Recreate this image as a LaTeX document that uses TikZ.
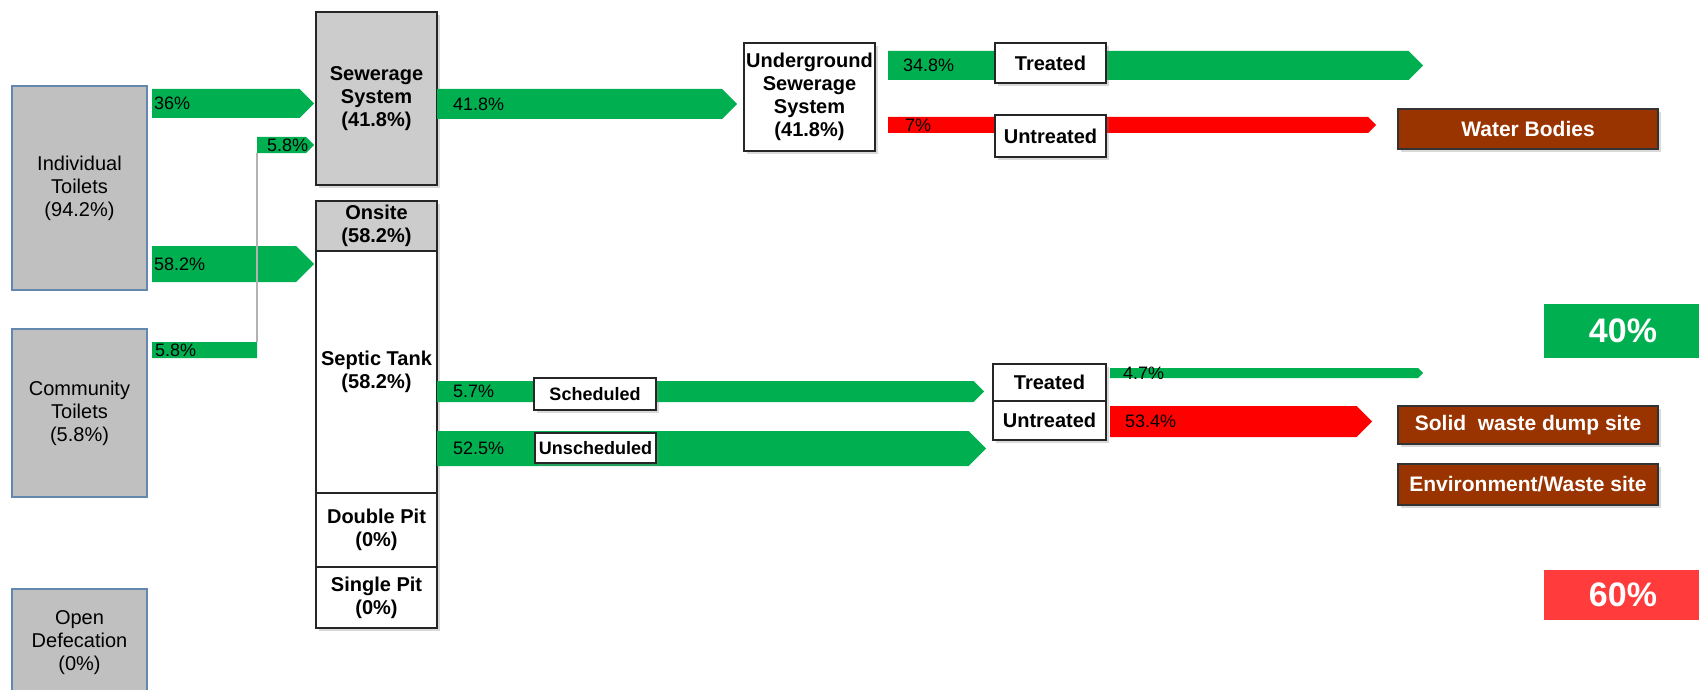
\documentclass[tikz,border=0pt]{standalone}
\usepackage{fontspec}
\setmainfont{Liberation Sans}
\usetikzlibrary{positioning,shapes.symbols,shadows}
\definecolor{flowgreen}{RGB}{0,176,80}
\definecolor{flowred}{RGB}{255,0,0}
\definecolor{srcgray}{RGB}{192,192,192}
\definecolor{srcblue}{RGB}{100,135,175}
\definecolor{stagegray}{RGB}{204,204,204}
\definecolor{sinkbrown}{RGB}{153,51,0}
\definecolor{sharered}{RGB}{255,59,59}

\begin{document}
\begin{tikzpicture}[x=1pt, y=-1pt,
	srcbox/.style={draw=srcblue, line width=1.3pt, fill=srcgray, minimum width=135pt, align=center, outer sep=0pt, font=\fontsize{20}{23}\selectfont},
	stagebox/.style={draw=black!85, line width=1.5pt, fill=white, minimum width=121pt, align=center, inner sep=0pt, outer sep=0pt, font=\bfseries\fontsize{20}{23}\selectfont, drop shadow={shadow xshift=3pt, shadow yshift=-3pt, opacity=0.3}},
	tagbox/.style={stagebox, font=\bfseries\fontsize{18}{21}\selectfont},
	sinkbox/.style={draw=black!80, line width=1.2pt, fill=sinkbrown, text=white, minimum width=260pt, outer sep=0pt, font=\bfseries\fontsize{21}{24}\selectfont, drop shadow={shadow xshift=3pt, shadow yshift=-3pt, opacity=0.3}},
	sharebox/.style={minimum width=158pt, text=white, outer sep=0pt, font=\bfseries\fontsize{34}{40}\selectfont},
	flow/.style={shape=signal, signal from=nowhere, signal to=east, fill=flowgreen, anchor=west, inner sep=0pt, outer sep=0pt},
	flowtxt/.style={anchor=west, inner sep=0pt, font=\fontsize{18}{20}\selectfont}]
	\useasboundingbox (0,0) rectangle (1699,690);
	\node[srcbox, anchor=north west, minimum height=204pt] (indiv) at (12,86) {Individual\\Toilets\\(94.2\%)};
	\node[srcbox, anchor=north west, minimum height=168pt] (comm) at (12,329) {Community\\Toilets\\(5.8\%)};
	\node[srcbox, anchor=north west, minimum height=108pt] (open) at (12,589) {Open\\Defecation\\(0\%)};
	\node[stagebox, fill=stagegray, anchor=north west, minimum height=173pt] (sew) at (316,12) {Sewerage\\System\\(41.8\%)};
	\node[stagebox, fill=stagegray, anchor=north west, minimum height=50pt] (onsite) at (316,201) {Onsite\\(58.2\%)};
	\node[stagebox, minimum height=242pt] (septic) [below=0pt of onsite] {Septic Tank\\(58.2\%)};
	\node[stagebox, minimum height=74pt] (dpit) [below=0pt of septic] {Double Pit\\(0\%)};
	\node[stagebox, minimum height=61pt] (spit) [below=0pt of dpit] {Single Pit\\(0\%)};
	\node[stagebox, anchor=north west, minimum width=131pt, minimum height=108pt] (ugs) at (744,43) {Underground\\Sewerage\\System\\(41.8\%)};
	\node[flow, minimum width=162pt, minimum height=29pt, label={[flowtxt, xshift=2pt]west:36\%}] (f36) at (152,103.5) {};
	\node[flow, minimum width=57pt, minimum height=16pt, label={[flowtxt, xshift=10pt]west:5.8\%}] (f58b) at (257,145) {};
	\node[flow, minimum width=162pt, minimum height=36pt, label={[flowtxt, xshift=2pt]west:58.2\%}] (f582) at (152,264) {};
	\node[flow, signal to=nowhere, minimum width=105pt, minimum height=16pt, label={[flowtxt, xshift=3pt]west:5.8\%}] (fcomm) at (152,350) {};
	\draw[black!30, line width=1.2pt] (fcomm.north east) -- (f58b.south west);
	\node[flow, minimum width=300pt, minimum height=30pt, label={[flowtxt, xshift=16pt]west:41.8\%}] (f418) at (437,104) {};
	\node[flow, minimum width=535pt, minimum height=29pt, label={[flowtxt, xshift=15pt]west:34.8\%}] (f348) at (888,65.5) {};
	\node[flow, fill=flowred, minimum width=488pt, minimum height=16pt, label={[flowtxt, xshift=17pt]west:7\%}] (f7) at (888,125) {};
	\node[flow, minimum width=547pt, minimum height=21pt, label={[flowtxt, xshift=16pt]west:5.7\%}] (f57) at (437,391.5) {};
	\node[flow, minimum width=549pt, minimum height=35pt, label={[flowtxt, xshift=16pt]west:52.5\%}] (f525) at (437,448.5) {};
	\node[flow, minimum width=313pt, minimum height=10pt, label={[flowtxt, xshift=13pt]west:4.7\%}] (f47) at (1110,373) {};
	\node[flow, fill=flowred, minimum width=262pt, minimum height=31pt, label={[flowtxt, xshift=15pt]west:53.4\%}] (f534) at (1110,421.5) {};
	\node[stagebox, anchor=north west, minimum width=111pt, minimum height=40pt] (tr1) at (995,43) {Treated};
	\node[stagebox, anchor=north west, minimum width=111pt, minimum height=42pt] (ut1) at (995,115) {Untreated};
	\node[tagbox, anchor=north west, minimum width=122pt, minimum height=32pt] (sched) at (534,378) {Scheduled};
	\node[tagbox, anchor=north west, minimum width=121pt, minimum height=30pt] (unsched) at (535,433) {Unscheduled};
	\node[stagebox, anchor=north west, minimum width=113pt, minimum height=37pt] (tr2) at (993,364) {Treated};
	\node[stagebox, minimum width=113pt, minimum height=39pt] (ut2) [below=0pt of tr2] {Untreated};
	\node[sinkbox, anchor=north west, minimum height=40pt] (water) at (1398,109) {Water Bodies};
	\node[sinkbox, anchor=north west, minimum height=38pt] (solid) at (1398,406) {Solid\ \ waste dump site};
	\node[sinkbox, minimum height=41pt] (env) [below=20pt of solid] {Environment/Waste site};
	\node[sharebox, fill=flowgreen, anchor=north west, minimum height=54pt] (p40) at (1544,304) {40\%};
	\node[sharebox, fill=sharered, anchor=north west, minimum height=50pt] (p60) at (1544,570) {60\%};
\end{tikzpicture}
\end{document}
